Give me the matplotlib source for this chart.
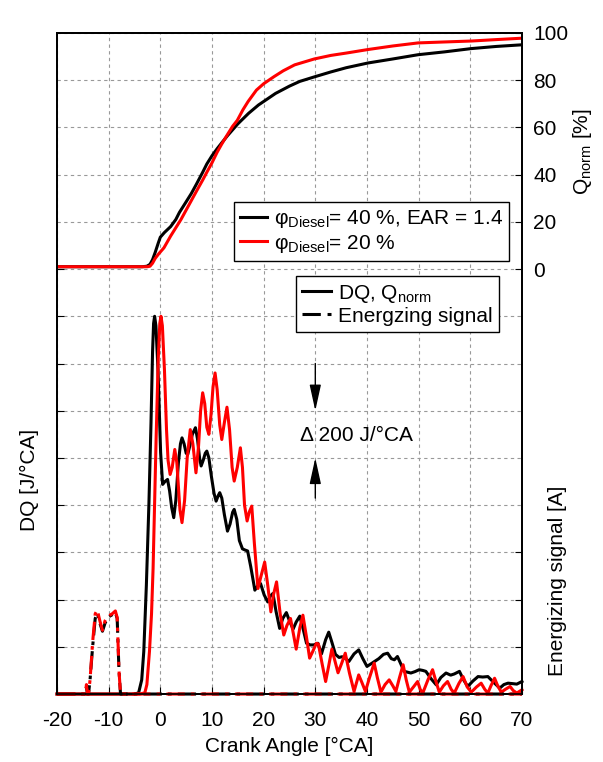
import numpy as np
import matplotlib
matplotlib.use("Agg")
import matplotlib.pyplot as plt
from matplotlib.lines import Line2D

plt.rcParams['font.family'] = ['Liberation Sans', 'DejaVu Sans']
plt.rcParams['font.size'] = 15
plt.rcParams['mathtext.fontset'] = 'custom'
plt.rcParams['mathtext.rm'] = 'Liberation Sans'
plt.rcParams['mathtext.it'] = 'Liberation Sans:italic'
plt.rcParams['axes.unicode_minus'] = False
plt.rcParams['lines.solid_joinstyle'] = 'round'

# normalised cumulative heat release [%]
ca_q40 = [-20, -3.5, -2.6, -2, -1.5, -1, -0.4, 0, 0.8, 2, 3, 3.7, 5, 6, 7, 8.2, 9, 10, 11,
          11.9, 13, 14, 15, 17.1, 19, 22.3, 25, 27, 29.8, 33, 36, 40.2, 45, 49.9, 55, 60.2, 65, 70]
q40 = [1, 1, 1.2, 2, 4, 7, 11, 13.5, 15.5, 18, 21, 24, 28.5, 32, 36, 41, 44.5, 48, 51,
       53.5, 56.5, 59, 61.5, 66, 69.5, 74.4, 77.5, 79.5, 81.4, 83.5, 85.3, 87.3, 89, 90.8, 92, 93.4, 94.3, 95]
ca_q20 = [-20, -2.5, -2, -1.5, -1, -0.3, 0.7, 2, 3, 4, 5, 6, 7, 8.2, 9, 10, 11, 11.9, 13, 14,
          14.9, 16, 17, 18.6, 20, 22, 23.8, 26, 29.8, 33, 36, 40.2, 45, 49.9, 55, 60.2, 65, 70]
q20 = [1, 1, 1.2, 2.5, 4.5, 6.5, 9, 14, 17.5, 21, 25, 29, 33, 37.7, 41, 45, 49.5, 53, 57, 60.5,
       63, 67.5, 71, 75.8, 78.5, 81.5, 84, 86.5, 89, 90.5, 91.5, 93, 94.5, 95.8, 96.2, 96.6, 97.2, 97.8]

# heat release rate DQ [J/°CA]
ca_dq40 = [-20, -5, -4.2, -3.6, -3.2, -2.7, -2.2, -1.8, -1.5, -1.3, -1.1, -0.85, -0.45, 0.06, 0.45,
           0.9, 1.4, 1.8, 2.2, 2.6, 3.0, 3.5, 3.9, 4.2, 4.6, 5.0, 5.3, 5.7, 6.2, 6.8, 7.2, 7.6, 7.9,
           8.3, 8.7, 9.0, 9.4, 9.9, 10.4, 10.8, 11.2, 11.5, 11.9, 12.4, 13.0, 13.5, 14.0, 14.3, 14.8,
           15.3, 15.9, 16.4, 16.9, 17.5, 18.3, 18.9, 19.4, 20.1, 20.8, 21.3, 21.8, 22.4, 23.1, 23.7,
           24.4, 25.0, 25.7, 26.3, 27.0, 27.6, 28.3, 29.0, 29.7, 30.5, 31.2, 32.0, 32.6, 33.2, 33.9,
           34.6, 35.2, 35.9, 36.5, 37.5, 38.4, 39.2, 40.0, 41.0, 42.3, 43.2, 44.0, 44.7, 45.3, 45.9,
           46.5, 47.2, 48.5, 49.3, 50.1, 50.8, 51.4, 52.4, 53.4, 54.3, 55.3, 56.2, 56.9, 57.9, 58.7,
           59.5, 60.5, 61.5, 62.4, 63.4, 64.5, 65.7, 66.5, 67.3, 68.2, 69.0, 70.0]
dq40 = [0, 0, 5, 60, 180, 460, 810, 1150, 1450, 1570, 1600, 1560, 1374, 1023, 888,
        900, 909, 860, 790, 747, 820, 980, 1060, 1085, 1060, 1020, 1015, 1050, 1100, 1128, 1080, 1000, 966,
        990, 1020, 1029, 1000, 920, 850, 817, 840, 853, 830, 760, 690, 720, 770, 782, 740,
        650, 615, 610, 606, 540, 440, 460, 468, 420, 390, 415, 426, 350, 278, 320,
        345, 310, 275, 305, 330, 280, 215, 208, 208, 215, 170, 230, 262, 220, 168,
        155, 158, 150, 138, 170, 187, 150, 117, 131, 150, 168, 173, 150, 145, 159,
        130, 96, 89, 95, 103, 100, 96, 65, 39, 70, 89, 80, 85, 96, 60,
        32, 55, 74, 72, 74, 50, 25, 40, 46, 44, 42, 53]
ca_dq20 = [-20, -4, -3, -2.6, -2.1, -1.7, -1.4, -0.8, -0.4, -0.1, 0.13, 0.4, 0.8, 1.2, 1.5, 1.9,
           2.3, 2.8, 3.2, 3.8, 4.2, 4.7, 5.2, 5.8, 6.3, 6.9, 7.4, 7.8, 8.2, 8.6, 9.0, 9.4, 9.8, 10.2,
           10.6, 11.0, 11.5, 11.9, 12.4, 12.9, 13.4, 13.9, 14.3, 14.9, 15.5, 15.9, 16.3, 16.8, 17.2,
           17.7, 18.2, 18.9, 19.5, 20.2, 20.8, 21.4, 21.9, 22.5, 23.2, 23.9, 24.5, 25.2, 25.8, 26.3,
           27.0, 27.6, 28.3, 28.9, 29.5, 30.2, 30.6, 31.3, 32.0, 32.6, 33.2, 33.8, 34.4, 35.1, 35.8,
           36.6, 37.5, 38.0, 38.4, 39.0, 39.7, 40.5, 41.4, 42.0, 42.7, 43.5, 44.3, 45.0, 45.6, 46.3,
           47.0, 47.6, 48.2, 49.0, 49.8, 50.3, 50.8, 51.8, 52.7, 53.4, 54.0, 54.8, 55.6, 56.3, 56.9,
           57.8, 58.6, 59.4, 60.2, 61.2, 62.1, 62.8, 63.4, 64.0, 64.7, 65.3, 66.0, 66.8, 67.7, 68.3,
           69.0, 70.0]
dq20 = [0, 0, 5, 40, 180, 340, 531, 1093, 1420, 1570, 1600, 1560, 1374, 1120, 990, 930,
        960, 1036, 980, 780, 726, 820, 1000, 1120, 1060, 937, 1050, 1200, 1276, 1230, 1130, 1100, 1180, 1300,
        1360, 1290, 1140, 1078, 1150, 1215, 1120, 960, 902, 960, 1043, 960, 800, 733, 770,
        796, 640, 447, 500, 559, 460, 348, 420, 475, 340, 250, 290, 320, 250, 190,
        280, 334, 240, 152, 180, 215, 212, 130, 53, 120, 190, 140, 90, 130, 173,
        90, 11, 50, 81, 50, 11, 70, 131, 70, 8, 40, 60, 35, 11, 70,
        124, 60, 8, 30, 53, 20, 4, 60, 103, 50, 8, 35, 53, 20, 4,
        45, 74, 30, 8, 30, 46, 20, 4, 35, 67, 35, 8, 20, 32, 15,
        4, 18]

# injector energizing current [A]
ca_inj = [-20, -14.5, -14.3, -14.1, -13.9, -13.6, -13.1, -12.6, -12.2, -11.7, -11.2, -10.7,
          -10.1, -9.3, -8.7, -8.35, -8.0, -7.7, 70]
inj40 = [0, 0, 1.5, 0, 0, 3, 10, 16, 17.2, 15, 13.3, 15, 16.3, 16.8, 17.3, 16, 5, 0, 0]
inj20 = [0, 0, 2, 0, 0, 3, 11, 17, 17.8, 15.5, 13.5, 15.5, 16.5, 17, 17.6, 16.2, 5, 0, 0]

fig = plt.figure(figsize=(6.03, 7.62), dpi=100)
ax = fig.add_axes([0.0945, 0.0892, 0.7711, 0.8675])
ax_q = ax.twinx()
ax_e = ax.twinx()

grid_kw = dict(color='#999999', lw=0.8, ls=(0, (3, 3)))
lw = 2.2
dash_e = (0, (6, 2, 1.2, 2))

# DQ traces (lower part)
ax.plot(ca_dq40, dq40, color='black', lw=lw, clip_on=False, zorder=3)
ax.plot(ca_dq20, dq20, color='red', lw=lw, clip_on=False, zorder=3)
ax.set_xlim(-20, 70)
ax.set_ylim(0, 2800)
ax.set_xticks(np.arange(-20, 71, 10))
ax.set_yticks(np.arange(0, 1801, 200))
ax.set_yticks(np.arange(2000, 2801, 200), minor=True)
ax.tick_params(axis='y', which='major', direction='in', length=5, labelleft=False)
ax.tick_params(axis='y', which='minor', length=0)
ax.tick_params(axis='x', direction='in', length=5, pad=12)
ax.grid(True, which='both', **grid_kw)
ax.set_xlabel('Crank Angle [°CA]', labelpad=5)
ax.set_ylabel('DQ [J/°CA]')
ax.yaxis.set_label_coords(-0.038, 0.324)

# Qnorm traces (upper part)
ax_q.plot(ca_q40, q40, color='black', lw=lw)
ax_q.plot(ca_q20, q20, color='red', lw=lw)
ax_q.set_ylim(-180, 100)
ax_q.set_yticks(np.arange(0, 101, 20))
ax_q.tick_params(axis='y', direction='in', length=5, pad=8)
ax_q.set_ylabel(r'Q$_{\mathrm{norm}}$ [%]')
ax_q.yaxis.set_label_coords(1.105, 0.82)

# energizing signal
ax_e.plot(ca_inj, inj40, color='black', lw=lw, ls=dash_e, clip_on=False)
ax_e.plot(ca_inj, inj20, color='red', lw=lw, ls=dash_e, clip_on=False)
ax_e.set_ylim(0, 140)
ax_e.set_yticks([0, 10, 20, 30])
ax_e.tick_params(axis='y', direction='in', length=5, labelright=False)
ax_e.set_ylabel('Energizing signal [A]')
ax_e.yaxis.set_label_coords(1.055, 0.172)

for a in (ax, ax_q, ax_e):
    for s in a.spines.values():
        s.set_linewidth(1.2)

# scale bar for DQ
arrow_kw = dict(arrowstyle='-|>,head_length=1.6,head_width=0.35', color='black',
                lw=1, mutation_scale=10, shrinkA=0, shrinkB=0)
ax.annotate('', xy=(30, 1200), xytext=(30, 1400), arrowprops=arrow_kw)
ax.annotate('', xy=(30, 1000), xytext=(30, 830), arrowprops=arrow_kw)
ax.text(27.1, 1093, 'Δ 200 J/°CA', ha='left', va='center')

# legends
leg_kw = dict(loc='upper left', frameon=True, fancybox=False, edgecolor='black',
              framealpha=1, borderpad=0.3, labelspacing=0.1, handlelength=1.3,
              handletextpad=0.3, borderaxespad=0, fontsize=15)
h_q = [Line2D([], [], color='black', lw=lw), Line2D([], [], color='red', lw=lw)]
leg1 = ax_e.legend(h_q, [r'φ$_{\mathrm{Diesel}}$= 40 %, EAR = 1.4', r'φ$_{\mathrm{Diesel}}$= 20 %'],
                   bbox_to_anchor=(0.381, 0.744), **leg_kw)
leg1.get_frame().set_linewidth(1.0)
ax_e.add_artist(leg1)
h_s = [Line2D([], [], color='black', lw=lw),
       Line2D([], [], color='black', lw=lw, ls=(0, (6, 2.2, 1.5, 10)))]
leg2 = ax_e.legend(h_s, [r'DQ, Q$_{\mathrm{norm}}$', 'Energzing signal'],
                   bbox_to_anchor=(0.514, 0.632), **dict(leg_kw, handlelength=1.4))
leg2.get_frame().set_linewidth(1.0)

fig.savefig('out.png', dpi=100)
